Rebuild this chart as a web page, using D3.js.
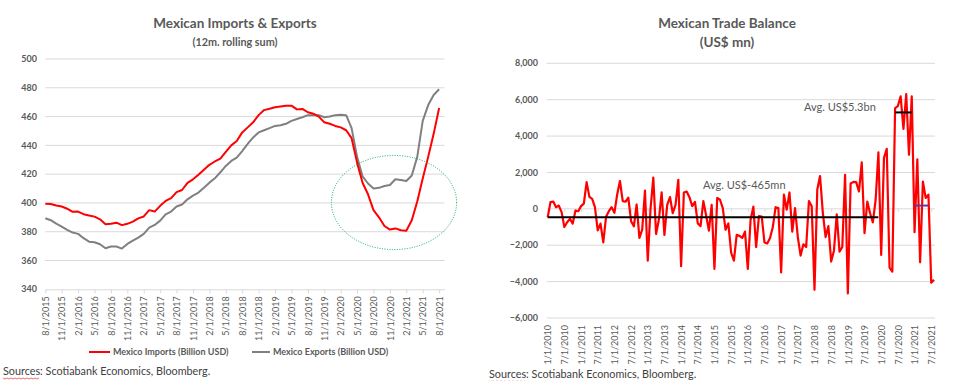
<!DOCTYPE html>
<html>
<head>
<meta charset="utf-8">
<script src="https://cdn.jsdelivr.net/npm/d3@7"></script>
<style>
  body { margin: 0; background: #fff; }
  svg { display: block; font-family: Lato, "Open Sans", sans-serif; }
  .lbl { fill: #595959; font-size: 9px; }
  .ttl { fill: #595959; font-weight: bold; text-anchor: middle; }
  .src { fill: #404040; font-size: 10.8px; }
</style>
</head>
<body>
<svg id="chart" width="967" height="381"></svg>
<script>
// ---- left chart: 12m rolling sums, monthly 8/2015 .. 8/2021 ----
const leftLabels = ['8/1/2015', '11/1/2015', '2/1/2016', '5/1/2016', '8/1/2016', '11/1/2016',
  '2/1/2017', '5/1/2017', '8/1/2017', '11/1/2017', '2/1/2018', '5/1/2018', '8/1/2018',
  '11/1/2018', '2/1/2019', '5/1/2019', '8/1/2019', '11/1/2019', '2/1/2020', '5/1/2020',
  '8/1/2020', '11/1/2020', '2/1/2021', '5/1/2021', '8/1/2021'];
const leftYTicks = [340, 360, 380, 400, 420, 440, 460, 480, 500];

const importsBn = [399.5, 399.3, 398.2, 397.5, 396, 393.8, 394, 392.2, 391.3, 390.5, 388.6, 385.2,
  385.6, 386.3, 384.6, 385.5, 387, 389.3, 390.6, 395, 394, 398, 401.4, 403.3, 407.5, 409, 414,
  416.4, 419.6, 423, 426.5, 428.8, 430.8, 435.5, 440, 443, 449, 452.5, 456, 461, 464.5, 465.5,
  466.5, 467, 467.5, 467.6, 465, 465.3, 463, 462, 460, 456, 455, 453.5, 452.5, 450.5, 445, 428,
  414, 406, 395, 390, 384, 381.5, 382.3, 381, 380.7, 388, 401, 417, 432, 448, 466];

const exportsBn = [389.4, 388, 385.6, 383.6, 381.3, 379.4, 378.5, 375.5, 373.1, 372.7, 371.3, 368.5,
  369.7, 369.7, 368.3, 371.5, 373.8, 375.9, 378.5, 382.9, 384.7, 387.7, 392.1, 394, 397.5, 398.9,
  402.5, 405.1, 407.2, 410.6, 414.1, 417.1, 421.3, 425.7, 429.2, 431.5, 436, 441, 445.5, 449, 450.5,
  452, 453.5, 454, 455, 457, 458.3, 459.5, 461, 461, 461, 459.5, 460, 461, 461.2, 461, 452, 432,
  418.5, 413.5, 410, 410.5, 411.8, 412.5, 416.5, 416, 415.3, 419, 432, 457, 468, 475, 479];

const leftSeries = [
  { name: 'Mexico Imports (Billion USD)', values: importsBn, color: '#ff0000' },
  { name: 'Mexico Exports (Billion USD)', values: exportsBn, color: '#808080' }
];

// ---- right chart: monthly trade balance 1/2010 .. 8/2021 (US$ mn) ----
const rightLabels = ['1/1/2010', '7/1/2010', '1/1/2011', '7/1/2011', '1/1/2012', '7/1/2012',
  '1/1/2013', '7/1/2013', '1/1/2014', '7/1/2014', '1/1/2015', '7/1/2015', '1/1/2016', '7/1/2016',
  '1/1/2017', '7/1/2017', '1/1/2018', '7/1/2018', '1/1/2019', '7/1/2019', '1/1/2020', '7/1/2020',
  '1/1/2021', '7/1/2021'];
const rightYTicks = [-6000, -4000, -2000, 0, 2000, 4000, 6000, 8000];

const balanceMn = [-460, 370, 400, 90, 180, -180, -1000, -740, -550, -810, -90, -130,
  150, 290, 1470, 660, 550, 90, -1180, -810, -1840, -440, -130, 90,
  -220, 790, 1530, 420, 390, 610, -680, -960, 240, -1600, -1150, 1000,
  -2850, 0, 1720, -1380, -600, 900, -1430, 220, 650, -240, 220, 1600,
  -3150, 900, 950, 640, 150, 380, -800, -950, 430, -350, -1200, 220,
  -3300, 600, 500, 40, -1150, -800, -2400, -2850, -1430, -1480, -1600, -1250,
  -3300, -600, 120, -2100, -400, -420, -1850, -1900, -1600, -1000, 90, 40,
  -3500, 780, -50, 900, -1250, 40, -1550, -2570, -1950, -2100, 430, 140,
  -4450, 1060, 1800, -220, -1550, -950, -2900, -2300, -300, -2350, -2100, 1870,
  -4650, 1400, 1480, 1470, 950, 2550, -1340, 400, -240, -750, 500, 3100,
  -2530, 2800, 3300, -3230, -3450, 5540, 5650, 6180, 4390, 6310, 2970, 6180,
  -1280, 2720, -2940, 1500, 600, 780, -4060, -3900];

// average lines: month index range and value
const avgLines = [
  { from: 0, to: 119, value: -465, color: '#000000', label: 'Avg. US$-465mn' },
  { from: 125, to: 131, value: 5300, color: '#000000', label: 'Avg. US$5.3bn' },
  { from: 132, to: 137, value: 180, color: '#7030a0', label: null }
];

const svg = d3.select('#chart');
const grid = '#d9d9d9';

// ================= left chart =================
const xL = d3.scaleLinear().domain([0, 73]).range([45.3, 444.6]);
const yL = d3.scaleLinear().domain([340, 500]).range([289.3, 59]);
const left = svg.append('g');

left.append('text').attr('class', 'ttl').attr('x', 235).attr('y', 28)
  .style('font-size', '13.5px').text('Mexican Imports & Exports');
left.append('text').attr('class', 'ttl').attr('x', 235).attr('y', 45.5)
  .style('font-size', '10.8px').text('(12m. rolling sum)');

left.append('g').selectAll('line')
  .data(leftYTicks.slice(1))
  .enter().append('line')
  .attr('x1', xL(0)).attr('x2', xL(73))
  .attr('y1', (d) => yL(d)).attr('y2', (d) => yL(d))
  .attr('stroke', grid).attr('stroke-width', 1);

left.append('g').selectAll('text')
  .data(leftYTicks)
  .enter().append('text')
  .attr('class', 'lbl')
  .attr('x', 37).attr('y', (d) => yL(d)).attr('dy', '0.35em')
  .attr('text-anchor', 'end')
  .style('font-weight', 'bold')
  .text((d) => d);

let axL = left.append('g')
  .attr('transform', 'translate(0,' + yL(340) + ')')
  .call(d3.axisBottom(xL)
    .tickValues(leftLabels.map((d, i) => i * 3))
    .tickFormat((d, i) => leftLabels[i])
    .tickSize(4).tickSizeOuter(0));
axL.select('.domain').attr('stroke', grid);
axL.selectAll('.tick line').attr('stroke', grid);
axL.selectAll('.tick text')
  .attr('class', 'lbl')
  .attr('transform', 'rotate(-90)')
  .attr('x', -7).attr('y', 0).attr('dy', '0.35em')
  .style('text-anchor', 'end');
axL.attr('font-family', null).attr('font-size', null);

let lineL = d3.line().x((d, i) => xL(i)).y((d) => yL(d));
left.selectAll('path.series')
  .data(leftSeries.slice().reverse())
  .enter().append('path')
  .attr('class', 'series')
  .attr('d', (d) => lineL(d.values))
  .attr('fill', 'none')
  .attr('stroke', (d) => d.color)
  .attr('stroke-width', 2)
  .attr('stroke-linejoin', 'round');

// dotted green ellipse around the 2020 dip
left.append('ellipse')
  .attr('cx', (xL(52.3) + xL(75.2)) / 2)
  .attr('cy', (yL(367.6) + yL(433)) / 2)
  .attr('rx', (xL(75.2) - xL(52.3)) / 2)
  .attr('ry', (yL(367.6) - yL(433)) / 2)
  .attr('fill', 'none')
  .attr('stroke', '#00b050')
  .attr('stroke-width', 1)
  .attr('stroke-dasharray', '1,1.5');

let legL = left.append('g').selectAll('g')
  .data(leftSeries)
  .enter().append('g')
  .attr('transform', (d, i) => 'translate(' + (i ? 252 : 89) + ',352)');
legL.append('line').attr('x1', 0).attr('x2', (d, i) => i ? 18 : 21)
  .attr('stroke', (d) => d.color).attr('stroke-width', 2);
legL.append('text').attr('class', 'lbl')
  .attr('x', (d, i) => i ? 21 : 24).attr('dy', '0.35em')
  .style('font-weight', 'bold')
  .text((d) => d.name);

// ================= right chart =================
const xR = d3.scaleLinear().domain([0, 139]).range([547.7, 934]);
const yR = d3.scaleLinear().domain([-6000, 8000]).range([318, 63.3]);
const right = svg.append('g');

right.append('text').attr('class', 'ttl').attr('x', 727).attr('y', 28)
  .style('font-size', '13.5px').text('Mexican Trade Balance');
right.append('text').attr('class', 'ttl').attr('x', 727).attr('y', 47)
  .style('font-size', '13.5px').text('(US$ mn)');

right.append('g').selectAll('line')
  .data(rightYTicks)
  .enter().append('line')
  .attr('x1', 546.7).attr('x2', 935)
  .attr('y1', (d) => yR(d)).attr('y2', (d) => yR(d))
  .attr('stroke', grid).attr('stroke-width', 1);

right.append('g').selectAll('text')
  .data(rightYTicks)
  .enter().append('text')
  .attr('class', 'lbl')
  .attr('x', 538).attr('y', (d) => yR(d)).attr('dy', '0.35em')
  .attr('text-anchor', 'end')
  .style('font-weight', 'bold')
  .text((d) => d3.format(',')(d));

// tick marks sit on the zero line, labels at the bottom
let zeroAx = right.append('g')
  .attr('transform', 'translate(0,' + yR(0) + ')')
  .call(d3.axisBottom(xR)
    .tickValues(rightLabels.map((d, i) => i * 6))
    .tickFormat('').tickSize(3).tickSizeOuter(0));
zeroAx.select('.domain').remove();
zeroAx.selectAll('.tick line').attr('stroke', grid);

let axR = right.append('g')
  .attr('transform', 'translate(0,' + yR(-6000) + ')')
  .call(d3.axisBottom(xR)
    .tickValues(rightLabels.map((d, i) => i * 6))
    .tickFormat((d, i) => rightLabels[i])
    .tickSize(0));
axR.select('.domain').remove();
axR.selectAll('.tick text')
  .attr('class', 'lbl')
  .attr('transform', 'rotate(-90)')
  .attr('x', -7).attr('y', 0).attr('dy', '0.35em')
  .style('text-anchor', 'end');
axR.attr('font-family', null).attr('font-size', null);

let lineR = d3.line().x((d, i) => xR(i)).y((d) => yR(d));
right.append('path')
  .attr('d', lineR(balanceMn))
  .attr('fill', 'none')
  .attr('stroke', '#ff0000')
  .attr('stroke-width', 2.2)
  .attr('stroke-linejoin', 'round');

right.selectAll('line.avg')
  .data(avgLines)
  .enter().append('line')
  .attr('class', 'avg')
  .attr('x1', (d) => xR(d.from)).attr('x2', (d) => xR(d.to))
  .attr('y1', (d) => yR(d.value)).attr('y2', (d) => yR(d.value))
  .attr('stroke', (d) => d.color)
  .attr('stroke-width', 2);

right.append('text').attr('x', 703).attr('y', 185).attr('dy', '0.35em')
  .attr('fill', '#595959').style('font-size', '11px').text(avgLines[0].label);
right.append('text').attr('x', 804).attr('y', 107).attr('dy', '0.35em')
  .attr('fill', '#595959').style('font-size', '11px').text(avgLines[1].label);

// ================= sources =================
const sources = 'Sources: Scotiabank Economics, Bloomberg.';
[[3, 375], [489, 378]].forEach(function (p) {
  svg.append('text').attr('class', 'src').attr('x', p[0]).attr('y', p[1]).text(sources);
  let pts = d3.range(0, 38, 2).map((k, j) => [p[0] + k, p[1] + 3 + (j % 2 ? 1 : 0)]);
  svg.append('path').attr('d', d3.line()(pts))
    .attr('fill', 'none').attr('stroke', '#e03030').attr('stroke-width', 0.7);
});
</script>
</body>
</html>
